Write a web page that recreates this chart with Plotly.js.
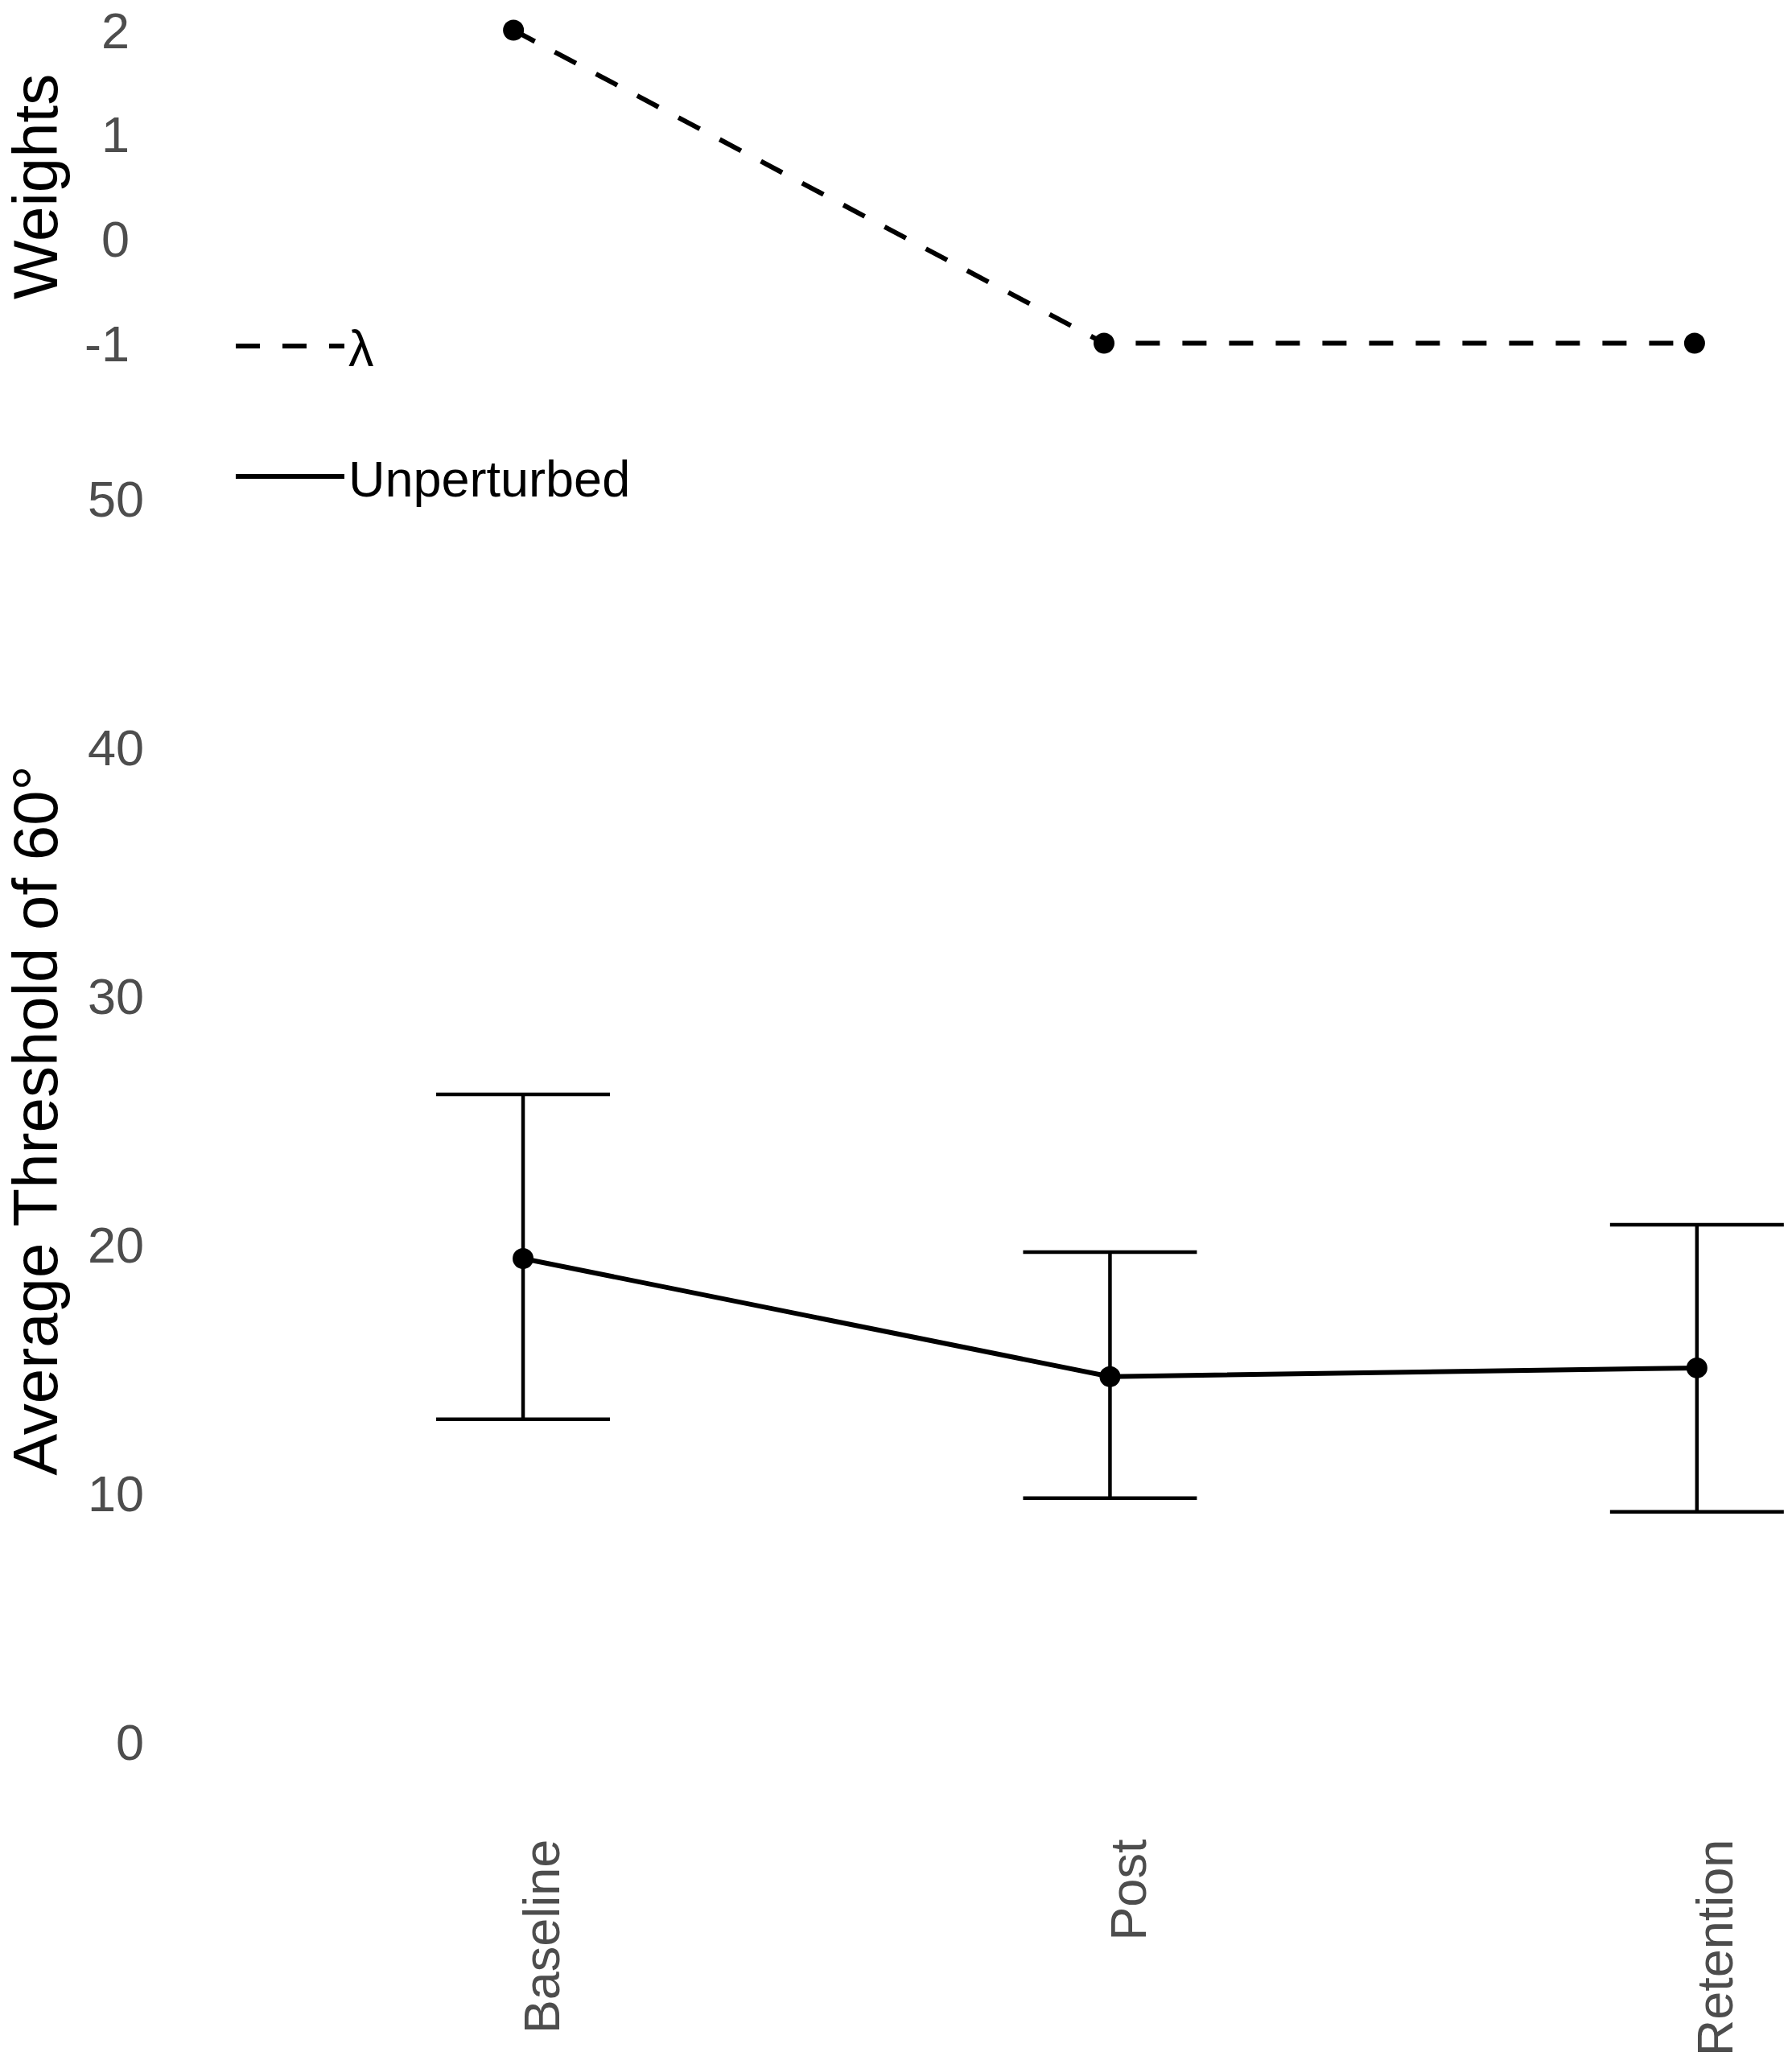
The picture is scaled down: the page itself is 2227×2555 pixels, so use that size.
<!DOCTYPE html>
<html>
<head>
<meta charset="utf-8">
<script src="https://cdn.plot.ly/plotly-3.0.1.min.js"></script>
<style>
  html, body { margin: 0; padding: 0; background: #fff; }
  #chart { width: 2227px; height: 2555px; }
</style>
</head>
<body>
<div id="chart"></div>
<script>
// sessions on the x axis
const sessions = ['Baseline', 'Post', 'Retention'];

// top panel: lambda weights
const lambdaWeights = [2, -1, -1];

// bottom panel: unperturbed average threshold with error bars
const thresholdMean = [19.45, 14.7, 15.05];
const thresholdUpper = [26.05, 19.71, 20.81];
const thresholdLower = [12.98, 9.81, 9.26];

const weightTicks = [-1, 0, 1, 2];
const weightTickText = ['-1', '0', '1', '2'];
const thresholdTicks = [0, 10, 20, 30, 40, 50];

const errPlus = thresholdUpper.map((u, i) => u - thresholdMean[i]);
const errMinus = thresholdMean.map((m, i) => m - thresholdLower[i]);

const fontFamily = '"Liberation Sans", Arial, sans-serif';
const tickFont = { family: fontFamily, size: 63, color: '#4D4D4D' };
const titleFont = { family: fontFamily, size: 78, color: '#000000' };
const legendFont = { family: fontFamily, size: 63, color: '#000000' };

// lines go in the legend, points and error bars stay out of it
const lambdaLine = {
  x: sessions,
  y: lambdaWeights,
  name: 'λ',
  type: 'scatter',
  mode: 'lines',
  xaxis: 'x2',
  yaxis: 'y2',
  line: { color: '#000000', width: 6, dash: '30px,28px' },
  legend: 'legend',
};

const lambdaPoints = {
  x: sessions,
  y: lambdaWeights,
  name: 'λ',
  type: 'scatter',
  mode: 'markers',
  xaxis: 'x2',
  yaxis: 'y2',
  marker: { color: '#000000', size: 26 },
  showlegend: false,
};

const unperturbedLine = {
  x: sessions,
  y: thresholdMean,
  name: 'Unperturbed',
  type: 'scatter',
  mode: 'lines',
  xaxis: 'x',
  yaxis: 'y',
  line: { color: '#000000', width: 6 },
  legend: 'legend2',
};

const unperturbedPoints = {
  x: sessions,
  y: thresholdMean,
  name: 'Unperturbed',
  type: 'scatter',
  mode: 'markers',
  xaxis: 'x',
  yaxis: 'y',
  marker: { color: '#000000', size: 26 },
  error_y: {
    type: 'data',
    symmetric: false,
    array: errPlus,
    arrayminus: errMinus,
    color: '#000000',
    thickness: 4.5,
    width: 108,
  },
  showlegend: false,
};

const layout = {
  width: 2227,
  height: 2555,
  paper_bgcolor: '#ffffff',
  plot_bgcolor: '#ffffff',
  margin: { l: 200, r: 0, t: 18, b: 313 },
  font: { family: fontFamily },
  xaxis: {
    type: 'category',
    anchor: 'y',
    range: [-0.617, 2.162],
    showgrid: false,
    zeroline: false,
    showline: false,
    ticks: '',
    tickangle: -90,
    tickfont: tickFont,
    ticklabelstandoff: 30,
    ticklabelshift: 24,
  },
  xaxis2: {
    type: 'category',
    anchor: 'y2',
    range: [-0.597, 2.165],
    showgrid: false,
    zeroline: false,
    showline: false,
    showticklabels: false,
    ticks: '',
  },
  yaxis: {
    domain: [0, 0.7639],
    range: [-2.5, 52.5],
    tickvals: thresholdTicks,
    showgrid: false,
    zeroline: false,
    showline: false,
    ticks: '',
    tickfont: tickFont,
    ticklabelstandoff: 20,
    title: { text: 'Average Threshold of 60°', font: titleFont, standoff: 22 },
  },
  yaxis2: {
    domain: [0.8076, 1],
    range: [-1.15, 2.15],
    tickvals: weightTicks,
    ticktext: weightTickText,
    showgrid: false,
    zeroline: false,
    showline: false,
    ticks: '',
    tickfont: tickFont,
    ticklabelstandoff: 38,
    ticklabeloverflow: 'allow',
    title: { text: 'Weights', font: titleFont, standoff: 26 },
  },
  showlegend: true,
  legend: {
    x: 0.0434,
    y: 0.8147,
    xanchor: 'left',
    yanchor: 'middle',
    bgcolor: 'rgba(0,0,0,0)',
    font: legendFont,
    itemwidth: 135,
  },
  legend2: {
    x: 0.0434,
    y: 0.7419,
    xanchor: 'left',
    yanchor: 'middle',
    bgcolor: 'rgba(0,0,0,0)',
    font: legendFont,
    itemwidth: 135,
  },
};

Plotly.newPlot(
  'chart',
  [lambdaLine, lambdaPoints, unperturbedLine, unperturbedPoints],
  layout,
  { displayModeBar: false },
);
</script>
</body>
</html>
